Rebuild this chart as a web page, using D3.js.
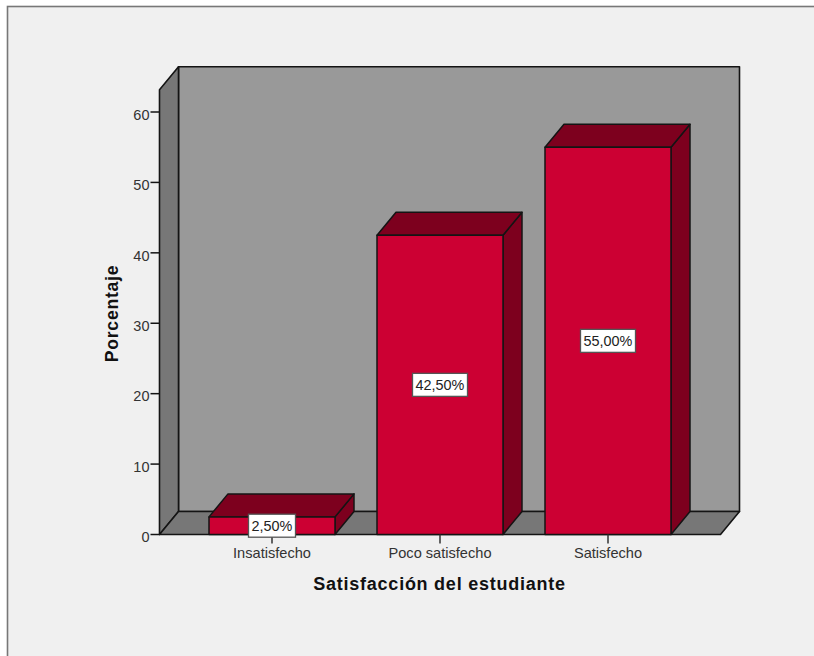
<!DOCTYPE html>
<html>
<head>
<meta charset="utf-8">
<script src="https://cdn.jsdelivr.net/npm/d3@7/dist/d3.min.js"></script>
<style>
html, body { margin: 0; padding: 0; background: #fff; }
svg { display: block; }
text { font-family: "Liberation Sans", Arial, sans-serif; }
</style>
</head>
<body>
<svg id="chart" width="814" height="656"></svg>
<script>
// Student satisfaction survey: share of respondents per category
const categories = ["Insatisfecho", "Poco satisfecho", "Satisfecho"];
const percentages = [2.5, 42.5, 55];
const valueLabels = ["2,50%", "42,50%", "55,00%"];
const yTicks = [0, 10, 20, 30, 40, 50, 60];
const xTitle = "Satisfacción del estudiante";
const yTitle = "Porcentaje";

const svg = d3.select("#chart");

// Chart frame and oblique depth offset of the 3D box
const depthX = 19, depthY = -23;
const plotLeft = 159.5, plotRight = 720.5, plotBottom = 534.5;

const y = d3.scaleLinear().domain([0, 60]).range([plotBottom, 112]);
const yTopValue = 63.15;
const x = d3.scaleBand().domain(categories).range([188, 692])
  .paddingInner(0.25).paddingOuter(0.125);

const poly = pts => pts.map(p => p.join(",")).join(" ");
const line = "#141414";

// Window panel with its grey left and top edge
svg.append("rect").attr("width", 814).attr("height", 656).attr("fill", "#fff");
svg.append("rect").attr("x", 7.5).attr("y", 6.5).attr("width", 810).attr("height", 654)
  .attr("fill", "#f0f0f0").attr("stroke", "#777").attr("stroke-width", 1.6);

const boxTop = y(yTopValue);
const walls = svg.append("g").attr("stroke", line).attr("stroke-width", 1.6).attr("stroke-linejoin", "round");

// Back wall
walls.append("polygon")
  .attr("points", poly([[plotLeft + depthX, boxTop + depthY], [plotRight + depthX, boxTop + depthY],
                        [plotRight + depthX, plotBottom + depthY], [plotLeft + depthX, plotBottom + depthY]]))
  .attr("fill", "#999999");
// Left wall
walls.append("polygon")
  .attr("points", poly([[plotLeft, boxTop], [plotLeft + depthX, boxTop + depthY],
                        [plotLeft + depthX, plotBottom + depthY], [plotLeft, plotBottom]]))
  .attr("fill", "#777777");
// Floor
walls.append("polygon")
  .attr("points", poly([[plotLeft, plotBottom], [plotLeft + depthX, plotBottom + depthY],
                        [plotRight + depthX, plotBottom + depthY], [plotRight, plotBottom]]))
  .attr("fill", "#777777");

// Bars: front, top and side faces
const bars = svg.append("g").attr("stroke", line).attr("stroke-width", 1.5).attr("stroke-linejoin", "round")
  .selectAll("g").data(categories).join("g");

const barBox = (c, i) => ({
  l: x(c), r: x(c) + x.bandwidth(), t: y(percentages[i]), b: y(0)
});

bars.append("polygon")
  .attr("points", (c, i) => { const q = barBox(c, i);
    return poly([[q.r, q.t], [q.r + depthX, q.t + depthY], [q.r + depthX, q.b + depthY], [q.r, q.b]]); })
  .attr("fill", "#7d001e");
bars.append("polygon")
  .attr("points", (c, i) => { const q = barBox(c, i);
    return poly([[q.l, q.t], [q.l + depthX, q.t + depthY], [q.r + depthX, q.t + depthY], [q.r, q.t]]); })
  .attr("fill", "#7d001e");
bars.append("rect")
  .attr("x", (c, i) => barBox(c, i).l)
  .attr("y", (c, i) => barBox(c, i).t)
  .attr("width", x.bandwidth())
  .attr("height", (c, i) => barBox(c, i).b - barBox(c, i).t)
  .attr("fill", "#cc0033");

// Value axis
const yAxis = svg.append("g").attr("transform", `translate(${plotLeft},0)`)
  .call(d3.axisLeft(y).offset(0).tickValues(yTicks).tickSize(9).tickPadding(1).tickFormat(d3.format("d")));
yAxis.select(".domain").remove();
yAxis.selectAll("line").attr("stroke", line).attr("stroke-width", 1.5);
yAxis.selectAll("text").attr("font-size", 14.5).attr("fill", "#333").attr("dy", "0.53em")
  .style("font-family", '"Liberation Sans", Arial, sans-serif');

// Category axis
const xAxis = svg.append("g").attr("transform", `translate(0,${plotBottom})`)
  .call(d3.axisBottom(x).tickSize(9).tickPadding(4));
xAxis.select(".domain").remove();
xAxis.selectAll("line").attr("stroke", "#333").attr("stroke-width", 1.5);
xAxis.selectAll("text").attr("font-size", 14.6).attr("fill", "#333")
  .style("font-family", '"Liberation Sans", Arial, sans-serif');

// Value labels in white boxes, centred on each bar's front face
const labels = svg.append("g").selectAll("g").data(categories).join("g")
  .attr("transform", (c, i) => `translate(${x(c) + x.bandwidth() / 2},${(y(percentages[i]) + y(0)) / 2})`);
labels.append("rect")
  .attr("x", (c, i) => i === 0 ? -23.5 : -27.5)
  .attr("y", -11.5)
  .attr("width", (c, i) => i === 0 ? 47 : 55)
  .attr("height", 23)
  .attr("fill", "#fff").attr("stroke", "#555").attr("stroke-width", 1.3);
labels.append("text")
  .attr("text-anchor", "middle").attr("dy", "0.36em")
  .attr("font-size", 14.4).attr("fill", "#222")
  .text((c, i) => valueLabels[i]);

// Axis titles
svg.append("text")
  .attr("x", 439.5).attr("y", 590)
  .attr("text-anchor", "middle")
  .attr("font-size", 18).attr("font-weight", "bold").attr("letter-spacing", 0.75).attr("fill", "#111")
  .text(xTitle);
svg.append("text")
  .attr("transform", "translate(118,313.5) rotate(-90)")
  .attr("text-anchor", "middle")
  .attr("font-size", 17.6).attr("font-weight", "bold").attr("letter-spacing", 0.75).attr("fill", "#111")
  .text(yTitle);
</script>
</body>
</html>
